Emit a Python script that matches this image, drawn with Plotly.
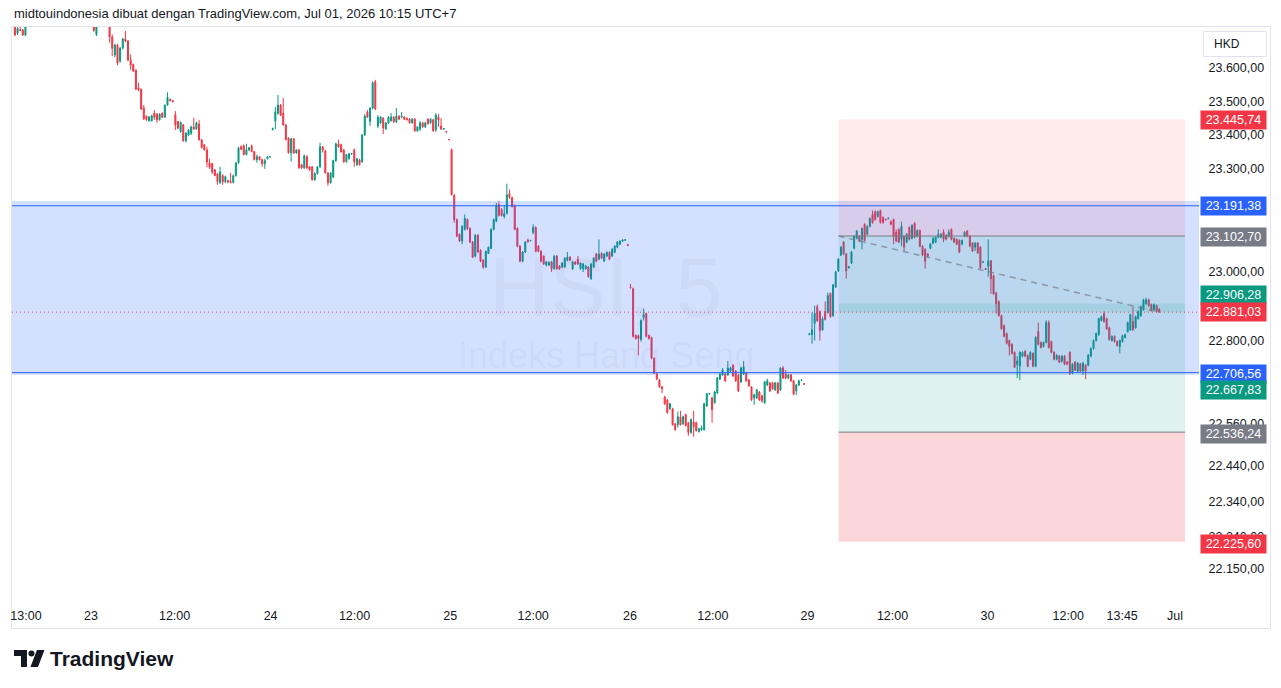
import math
import plotly.graph_objects as go

# ---------------- DATA (HSI, 5-minute candles) ----------------
# each tuple = (open, high, low, close); one list per trading session
D22 = [  # last bars of Jun 22 (first five visible at the top edge, the rest above the visible range)
    (23730, 23745, 23695, 23698), (23703, 23725, 23698, 23718), (23714, 23722, 23710, 23712),
    (23713, 23716, 23696, 23698), (23698, 23745, 23695, 23730),
    (23730, 23752, 23726, 23745), (23745, 23768, 23740, 23760), (23760, 23781, 23752, 23772),
    (23772, 23779, 23758, 23766), (23766, 23788, 23761, 23780), (23780, 23801, 23774, 23795),
    (23795, 23799, 23781, 23787), (23787, 23808, 23783, 23802), (23802, 23818, 23796, 23810),
    (23810, 23813, 23792, 23798), (23798, 23811, 23793, 23805), (23805, 23822, 23800, 23815),
    (23815, 23828, 23809, 23820), (23820, 23824, 23806, 23812), (23812, 23816, 23800, 23806),
    (23806, 23822, 23802, 23818), (23818, 23831, 23812, 23825), (23825, 23828, 23808, 23814),
    (23814, 23817, 23795, 23800), (23800, 23804, 23786, 23792), (23792, 23796, 23779, 23785),
    (23785, 23797, 23781, 23790), (23790, 23793, 23772, 23778), (23778, 23782, 23762, 23770),
    (23770, 23774, 23752, 23765),
]
D23 = [
    (23730, 23745, 23708, 23712), (23700, 23740, 23695, 23728), (23728, 23765, 23724, 23752),
    (23752, 23775, 23740, 23748), (23748, 23760, 23732, 23740), (23740, 23752, 23726, 23735),
    (23735, 23745, 23675, 23692), (23692, 23700, 23635, 23658), (23638, 23672, 23632, 23668),
    (23668, 23672, 23608, 23614), (23620, 23662, 23615, 23659), (23659, 23690, 23655, 23686),
    (23686, 23710, 23676, 23680), (23680, 23683, 23620, 23623), (23623, 23640, 23594, 23608),
    (23610, 23612, 23588, 23590), (23593, 23595, 23534, 23536), (23540, 23555, 23530, 23534),
    (23536, 23538, 23474, 23477), (23480, 23489, 23445, 23448), (23456, 23458, 23442, 23445),
    (23442, 23456, 23440, 23454), (23442, 23460, 23440, 23457), (23465, 23474, 23445, 23453),
    (23462, 23465, 23436, 23445), (23445, 23465, 23443, 23462), (23465, 23467, 23450, 23453),
    (23453, 23490, 23451, 23489), (23489, 23527, 23487, 23512), (23506, 23508, 23500, 23502),
    (23502, 23504, 23497, 23499),
    (23460, 23471, 23415, 23430), (23440, 23442, 23418, 23420), (23410, 23440, 23407, 23438),
    (23430, 23433, 23380, 23383), (23383, 23408, 23378, 23406), (23400, 23418, 23398, 23415),
    (23405, 23427, 23400, 23424), (23424, 23451, 23415, 23418), (23418, 23440, 23415, 23436),
    (23433, 23445, 23383, 23386), (23386, 23388, 23360, 23363), (23371, 23373, 23354, 23356),
    (23356, 23365, 23305, 23320), (23318, 23330, 23300, 23305), (23315, 23318, 23285, 23291),
    (23297, 23300, 23278, 23280), (23285, 23288, 23253, 23262), (23259, 23306, 23256, 23291),
    (23280, 23285, 23253, 23262), (23262, 23280, 23258, 23277), (23265, 23268, 23258, 23261),
    (23263, 23288, 23257, 23260), (23260, 23283, 23257, 23280), (23280, 23320, 23277, 23318),
    (23318, 23365, 23315, 23362), (23365, 23370, 23355, 23358), (23368, 23372, 23340, 23342),
    (23342, 23374, 23340, 23356), (23356, 23365, 23353, 23362), (23368, 23372, 23349, 23351),
    (23351, 23353, 23325, 23327), (23327, 23342, 23318, 23336), (23336, 23338, 23325, 23327),
    (23327, 23330, 23306, 23315), (23315, 23330, 23300, 23324), (23330, 23337, 23328, 23335),
    (23335, 23337, 23333, 23336),
]
D24 = [
    (23416, 23422, 23414, 23419), (23442, 23483, 23418, 23468), (23465, 23519, 23460, 23489),
    (23489, 23492, 23456, 23459), (23465, 23510, 23428, 23430), (23430, 23433, 23384, 23386),
    (23391, 23393, 23345, 23347), (23347, 23391, 23321, 23389), (23389, 23391, 23345, 23347),
    (23347, 23358, 23344, 23356), (23356, 23359, 23300, 23303), (23312, 23315, 23300, 23303),
    (23303, 23342, 23300, 23339), (23336, 23340, 23300, 23303), (23306, 23308, 23294, 23297),
    (23306, 23308, 23265, 23268), (23268, 23290, 23265, 23286), (23286, 23308, 23283, 23306),
    (23306, 23377, 23303, 23365), (23365, 23367, 23348, 23356), (23353, 23356, 23286, 23288),
    (23288, 23290, 23250, 23259), (23259, 23290, 23256, 23288), (23276, 23327, 23273, 23324),
    (23324, 23377, 23321, 23374), (23374, 23386, 23362, 23365), (23371, 23374, 23348, 23350),
    (23356, 23358, 23318, 23321), (23321, 23344, 23318, 23342), (23330, 23348, 23327, 23344),
    (23344, 23346, 23342, 23345),
    (23356, 23360, 23306, 23321), (23312, 23332, 23309, 23330), (23327, 23330, 23310, 23312),
    (23321, 23403, 23318, 23400), (23400, 23462, 23398, 23456), (23468, 23474, 23450, 23453),
    (23440, 23482, 23427, 23480), (23480, 23560, 23476, 23555), (23558, 23564, 23474, 23477),
    (23427, 23459, 23421, 23453), (23436, 23456, 23433, 23453), (23450, 23453, 23403, 23421),
    (23418, 23438, 23415, 23436), (23436, 23456, 23433, 23453), (23442, 23465, 23440, 23453),
    (23453, 23456, 23436, 23439), (23439, 23480, 23436, 23456), (23456, 23459, 23445, 23447),
    (23453, 23468, 23450, 23456), (23453, 23456, 23445, 23447), (23450, 23452, 23443, 23445),
    (23447, 23450, 23434, 23436), (23436, 23450, 23433, 23447), (23447, 23450, 23410, 23412),
    (23412, 23426, 23410, 23424), (23418, 23442, 23412, 23436), (23436, 23439, 23422, 23424),
    (23424, 23439, 23421, 23436), (23447, 23450, 23431, 23433), (23436, 23450, 23433, 23447),
    (23445, 23448, 23410, 23412), (23415, 23465, 23409, 23459), (23453, 23462, 23424, 23445),
    (23427, 23450, 23415, 23418), (23417, 23420, 23416, 23419), (23410, 23411, 23408, 23409),
    (23387, 23388, 23385, 23386),
]
D25 = [
    (23356, 23360, 23222, 23224), (23222, 23225, 23142, 23151), (23151, 23154, 23100, 23102),
    (23108, 23110, 23085, 23088), (23088, 23134, 23079, 23131), (23122, 23166, 23119, 23154),
    (23151, 23154, 23120, 23125), (23125, 23128, 23082, 23085), (23085, 23088, 23039, 23041),
    (23044, 23108, 23040, 23105), (23105, 23108, 23053, 23056), (23061, 23064, 23026, 23029),
    (23032, 23035, 23007, 23012), (23012, 23060, 23009, 23058), (23052, 23072, 23050, 23070),
    (23067, 23125, 23064, 23122), (23122, 23154, 23119, 23151), (23146, 23200, 23143, 23192),
    (23195, 23204, 23160, 23163), (23180, 23185, 23160, 23163), (23160, 23192, 23154, 23168),
    (23169, 23256, 23166, 23224), (23227, 23239, 23212, 23215), (23215, 23218, 23186, 23189),
    (23192, 23195, 23120, 23122), (23125, 23128, 23070, 23073), (23073, 23076, 23026, 23029),
    (23029, 23058, 23026, 23056), (23056, 23088, 23053, 23085), (23091, 23095, 23083, 23086),
    (23089, 23091, 23087, 23090),
    (23113, 23137, 23108, 23128), (23128, 23131, 23055, 23058), (23073, 23076, 23055, 23058),
    (23058, 23061, 23026, 23029), (23044, 23046, 23018, 23021), (23018, 23030, 23014, 23027),
    (23018, 23029, 23015, 23026), (23027, 23030, 22998, 23007), (23007, 23046, 23004, 23044),
    (23044, 23047, 23004, 23007), (23015, 23018, 23004, 23007), (23012, 23026, 23009, 23024),
    (23012, 23041, 23009, 23038), (23032, 23056, 23029, 23041), (23041, 23044, 23029, 23032),
    (23007, 23030, 23004, 23027), (23027, 23029, 23018, 23021), (23035, 23044, 23018, 23021),
    (23007, 23026, 23004, 23024), (23007, 23024, 22998, 23021), (23007, 23018, 23004, 23015),
    (23012, 23015, 22981, 22984), (22978, 23024, 22975, 23021), (23012, 23041, 23009, 23038),
    (23050, 23053, 23026, 23029), (23035, 23093, 23032, 23050), (23052, 23055, 23035, 23038),
    (23030, 23053, 23027, 23050), (23044, 23058, 23041, 23055), (23055, 23058, 23032, 23035),
    (23044, 23067, 23041, 23064), (23055, 23076, 23053, 23073), (23070, 23088, 23067, 23085),
    (23079, 23090, 23076, 23088), (23088, 23093, 23085, 23091), (23090, 23093, 23089, 23092),
    (23078, 23079, 23074, 23075),
]
D26 = [
    (22954, 22963, 22950, 22952), (22949, 22952, 22808, 22811), (22814, 22816, 22802, 22805),
    (22813, 22816, 22756, 22805), (22802, 22860, 22796, 22857), (22866, 22891, 22857, 22874),
    (22877, 22880, 22808, 22811), (22814, 22816, 22802, 22805), (22808, 22810, 22745, 22748),
    (22748, 22751, 22703, 22705), (22703, 22708, 22685, 22688), (22685, 22688, 22663, 22666),
    (22666, 22668, 22648, 22660), (22637, 22640, 22614, 22617), (22628, 22631, 22589, 22592),
    (22603, 22620, 22600, 22617), (22603, 22606, 22555, 22557), (22560, 22562, 22540, 22543),
    (22557, 22595, 22549, 22580), (22580, 22597, 22555, 22557), (22560, 22583, 22557, 22580),
    (22586, 22589, 22552, 22555), (22563, 22566, 22526, 22535), (22535, 22575, 22532, 22572),
    (22566, 22597, 22523, 22552), (22563, 22566, 22538, 22540), (22538, 22549, 22535, 22546),
    (22543, 22555, 22540, 22549), (22543, 22620, 22540, 22617), (22611, 22648, 22608, 22646),
    (22645, 22648, 22644, 22647),
    (22634, 22637, 22563, 22600), (22620, 22654, 22617, 22651), (22648, 22694, 22645, 22691),
    (22688, 22705, 22686, 22703), (22700, 22720, 22697, 22714), (22703, 22705, 22680, 22683),
    (22700, 22740, 22697, 22720), (22711, 22723, 22708, 22720), (22728, 22731, 22694, 22697),
    (22711, 22714, 22680, 22683), (22700, 22703, 22651, 22654), (22680, 22723, 22677, 22720),
    (22703, 22740, 22700, 22723), (22705, 22708, 22680, 22683), (22686, 22688, 22666, 22668),
    (22666, 22668, 22625, 22628), (22634, 22646, 22614, 22643), (22634, 22660, 22631, 22657),
    (22651, 22654, 22626, 22628), (22640, 22643, 22620, 22626), (22620, 22683, 22617, 22680),
    (22671, 22689, 22668, 22683), (22677, 22680, 22651, 22654), (22677, 22680, 22657, 22660),
    (22657, 22680, 22654, 22677), (22677, 22680, 22645, 22648), (22657, 22722, 22654, 22720),
    (22720, 22725, 22688, 22691), (22703, 22714, 22688, 22691), (22691, 22703, 22688, 22700),
    (22700, 22703, 22680, 22683), (22683, 22686, 22642, 22645), (22654, 22674, 22642, 22671),
    (22671, 22686, 22668, 22683), (22684, 22687, 22683, 22686), (22675, 22676, 22672, 22673),
]
D29 = [
    (22816, 22821, 22815, 22819), (22816, 22880, 22790, 22830), (22848, 22900, 22799, 22877),
    (22897, 22903, 22853, 22856), (22883, 22886, 22799, 22828), (22830, 22868, 22827, 22862),
    (22883, 22912, 22857, 22860), (22880, 22938, 22877, 22929), (22935, 22938, 22865, 22868),
    (22871, 22963, 22868, 22960), (22954, 23001, 22951, 22998), (23001, 23038, 22998, 23035),
    (23047, 23073, 23044, 23070), (23085, 23088, 23047, 23050), (23050, 23053, 22978, 23001),
    (23010, 23015, 23008, 23013), (23024, 23059, 23021, 23056), (23067, 23105, 23064, 23102),
    (23096, 23120, 23093, 23117), (23102, 23105, 23085, 23088), (23093, 23128, 23064, 23125),
    (23137, 23140, 23087, 23090), (23108, 23134, 23105, 23131), (23131, 23157, 23128, 23154),
    (23166, 23177, 23139, 23142), (23174, 23177, 23148, 23151), (23160, 23177, 23157, 23174),
    (23177, 23180, 23139, 23142), (23157, 23160, 23139, 23142), (23152, 23153, 23149, 23150),
    (23153, 23156, 23152, 23155),
    (23145, 23148, 23134, 23137), (23151, 23154, 23079, 23102), (23114, 23122, 23085, 23088),
    (23122, 23125, 23082, 23085), (23093, 23145, 23073, 23131), (23102, 23105, 23059, 23070),
    (23085, 23111, 23082, 23108), (23128, 23131, 23090, 23093), (23096, 23137, 23093, 23134),
    (23140, 23143, 23096, 23099), (23102, 23122, 23099, 23119), (23119, 23122, 23070, 23073),
    (23073, 23076, 23044, 23047), (23064, 23067, 23007, 23029), (23050, 23053, 23041, 23044),
    (23067, 23082, 23064, 23079), (23082, 23099, 23079, 23096), (23085, 23102, 23082, 23099),
    (23099, 23122, 23096, 23108), (23099, 23111, 23096, 23108), (23114, 23122, 23085, 23093),
    (23105, 23108, 23090, 23093), (23102, 23122, 23099, 23114), (23122, 23125, 23090, 23093),
    (23096, 23099, 23082, 23085), (23093, 23096, 23076, 23079), (23090, 23093, 23053, 23056),
    (23079, 23093, 23076, 23090), (23102, 23117, 23099, 23114), (23117, 23120, 23099, 23102),
    (23102, 23105, 23070, 23073), (23082, 23085, 23056, 23059), (23070, 23085, 23059, 23082),
    (23082, 23085, 23050, 23053), (23070, 23073, 23007, 23010), (23026, 23029, 23025, 23028),
    (23008, 23009, 23004, 23005),
]
D30 = [
    (23015, 23093, 22984, 23030), (23030, 23033, 22934, 22978), (22987, 22990, 22931, 22934),
    (22937, 22940, 22877, 22906), (22912, 22915, 22868, 22871), (22871, 22874, 22830, 22833),
    (22842, 22845, 22808, 22811), (22819, 22822, 22788, 22791), (22799, 22802, 22756, 22782),
    (22788, 22791, 22759, 22762), (22765, 22768, 22720, 22722), (22730, 22754, 22691, 22740),
    (22725, 22768, 22685, 22765), (22754, 22768, 22751, 22765), (22768, 22771, 22751, 22754),
    (22756, 22759, 22722, 22725), (22745, 22768, 22742, 22765), (22762, 22765, 22722, 22725),
    (22725, 22811, 22722, 22808), (22825, 22851, 22785, 22788), (22794, 22796, 22776, 22779),
    (22782, 22796, 22779, 22794), (22794, 22857, 22791, 22851), (22851, 22857, 22776, 22779),
    (22796, 22799, 22762, 22765), (22765, 22768, 22742, 22745), (22745, 22759, 22742, 22757),
    (22754, 22757, 22734, 22737), (22739, 22757, 22736, 22754), (22754, 22757, 22728, 22731),
    (22737, 22740, 22728, 22731),
    (22765, 22768, 22700, 22705), (22705, 22734, 22702, 22731), (22737, 22740, 22711, 22714),
    (22711, 22737, 22708, 22734), (22731, 22734, 22708, 22711), (22711, 22737, 22700, 22734),
    (22728, 22731, 22688, 22711), (22728, 22760, 22725, 22757), (22754, 22779, 22751, 22776),
    (22776, 22802, 22773, 22799), (22799, 22822, 22796, 22819), (22816, 22865, 22813, 22862),
    (22857, 22871, 22854, 22868), (22877, 22883, 22851, 22854), (22862, 22865, 22830, 22833),
    (22836, 22839, 22799, 22802), (22799, 22814, 22796, 22811), (22811, 22814, 22793, 22796),
    (22796, 22799, 22782, 22785), (22782, 22802, 22762, 22799), (22796, 22816, 22793, 22813),
    (22808, 22819, 22805, 22816), (22825, 22854, 22822, 22851), (22830, 22877, 22827, 22874),
    (22854, 22897, 22827, 22830), (22836, 22871, 22833, 22868), (22862, 22886, 22860, 22883),
    (22871, 22900, 22868, 22897), (22888, 22920, 22886, 22917), (22906, 22923, 22903, 22917),
    (22917, 22920, 22897, 22900), (22903, 22906, 22883, 22886), (22888, 22906, 22886, 22903),
    (22900, 22903, 22880, 22883), (22890, 22892, 22879, 22881.03),
]
# (session, bars, index of first listed bar inside its 68-bar session)
SESSIONS = [("22", D22, 38), ("23", D23, 0), ("24", D24, 0), ("25", D25, 0),
            ("26", D26, 0), ("29", D29, 0), ("30", D30, 0)]
BARS_PER_SESSION = 68

# time-axis labels and their bar positions
X_TICK_TEXT = ["13:00", "23", "12:00", "24", "12:00", "25", "12:00", "26", "12:00",
               "29", "12:00", "30", "12:00", "13:45", "Jul"]
X_TICK_BAR = [-25.8, -1.1, 30.7, 67.2, 99.1, 135.5, 167.0, 203.8, 235.3,
              271.3, 303.6, 339.7, 370.4, 390.9, 411.0]
X_RANGE = [-31.1, 420.1]

# price axis (log scale)
Y_TICKS = [23600, 23500, 23400, 23300, 23200, 23100, 23000, 22900, 22800,
           22680, 22560, 22440, 22340, 22240, 22150]
Y_RANGE = [22067.9, 23722.2]

# drawings
ZONE_LOW, ZONE_HIGH = 22700.0, 23205.0          # blue rectangle
HLINE_TOP, HLINE_BOTTOM = 23191.38, 22706.56     # blue horizontal lines
LAST_PRICE = 22881.03
STOP_HIGH, ENTRY_HIGH, TARGET_A = 23445.74, 23102.70, 22667.83
TARGET_B, ENTRY_LOW, STOP_LOW = 22906.28, 22536.24, 22225.60
POS_BAR_START, POS_BAR_END = 283.1, 414.8

# axis labels on the right: (price, colour, pixel shift)
PRICE_LABELS = [
    (STOP_HIGH, "#F23645", 0), (HLINE_TOP, "#2962FF", 0), (ENTRY_HIGH, "#787B86", -1),
    (TARGET_B, "#089981", 8), (LAST_PRICE, "#F23645", 0), (HLINE_BOTTOM, "#2962FF", -1),
    (TARGET_A, "#089981", -4), (ENTRY_LOW, "#787B86", -2), (STOP_LOW, "#F23645", -2),
]

# ---------------- BUILD ----------------
xs, op, hi, lo, cl = [], [], [], [], []
for k, (_, bars, first) in enumerate(SESSIONS):
    for i, (bo, bh, bl, bc) in enumerate(bars):
        xs.append((k - 1) * BARS_PER_SESSION + first + i)
        op.append(bo); hi.append(bh); lo.append(bl); cl.append(bc)
last_bar = xs[-1]


def fmt(v):
    s = f"{v:,.2f}"
    return s.replace(",", "#").replace(".", ",").replace("#", ".")


FONT = "Liberation Sans Narrow, Arial Narrow, Liberation Sans, Arial, sans-serif"
UP, DOWN = "#089981", "#F23645"

fig = go.Figure(go.Candlestick(
    x=xs, open=op, high=hi, low=lo, close=cl,
    increasing=dict(line=dict(color=UP, width=1), fillcolor=UP),
    decreasing=dict(line=dict(color=DOWN, width=1), fillcolor=DOWN),
    whiskerwidth=0, hoverinfo="skip", showlegend=False,
))

shapes = []
# blue zone rectangle
shapes.append(dict(type="rect", xref="paper", x0=0, x1=1, yref="y", y0=ZONE_LOW, y1=ZONE_HIGH,
                   fillcolor="rgba(41,98,255,0.2)", line=dict(width=0), layer="above"))
# position tool zones
zones = [(ENTRY_HIGH, STOP_HIGH, "rgba(242,54,69,0.11)"),
         (ENTRY_LOW, ENTRY_HIGH, "rgba(8,153,129,0.125)"),
         (LAST_PRICE, TARGET_B, "rgba(8,153,129,0.12)"),
         (STOP_LOW, ENTRY_LOW, "rgba(242,54,69,0.2)")]
for y0, y1, col in zones:
    shapes.append(dict(type="rect", xref="x", x0=POS_BAR_START, x1=POS_BAR_END, yref="y",
                       y0=y0, y1=y1, fillcolor=col, line=dict(width=0), layer="above"))
for yv in (ENTRY_HIGH, ENTRY_LOW):
    shapes.append(dict(type="line", xref="x", x0=POS_BAR_START, x1=POS_BAR_END, yref="y",
                       y0=yv, y1=yv, line=dict(color="#787B86", width=1), layer="above"))
shapes.append(dict(type="line", xref="x", x0=POS_BAR_START, x1=last_bar, yref="y",
                   y0=ENTRY_HIGH, y1=LAST_PRICE,
                   line=dict(color="rgba(120,123,134,0.7)", width=1.5, dash="6px,5px"),
                   layer="above"))
for yv in (HLINE_TOP, HLINE_BOTTOM):
    shapes.append(dict(type="line", xref="paper", x0=0, x1=1, yref="y", y0=yv, y1=yv,
                       line=dict(color="#2962FF", width=1), layer="above"))
shapes.append(dict(type="line", xref="paper", x0=0, x1=1, yref="y", y0=LAST_PRICE, y1=LAST_PRICE,
                   line=dict(color="rgba(242,54,69,0.85)", width=1, dash="1px,3px"),
                   layer="above"))

# page furniture (pixel -> paper helpers for decoration outside the plot)
PL, PR, PT, PB = 10, 1199, 27, 598


def px(x):
    return (x - PL) / (PR - PL)


def py(y):
    return (PB - y) / (PB - PT)


shapes.append(dict(type="rect", xref="paper", yref="paper", x0=px(9.5), x1=px(1270.5),
                   y0=py(26.5), y1=py(628.5), line=dict(color="#E0E3EB", width=1),
                   fillcolor="rgba(0,0,0,0)", layer="below"))
# HKD box
shapes.append(dict(type="rect", xref="paper", yref="paper", x0=px(1203.5), x1=px(1266.5),
                   y0=py(31.5), y1=py(56.5), line=dict(color="#E0E3EB", width=1),
                   fillcolor="white", layer="above"))
# TradingView logo mark
shapes.append(dict(type="path", xref="paper", yref="paper",
                   path=f"M {px(12)},{py(650)} L {px(25)},{py(650)} L {px(25)},{py(667)} "
                        f"L {px(19)},{py(667)} L {px(19)},{py(656)} L {px(12)},{py(656)} Z",
                   fillcolor="#131722", line=dict(width=0)))
shapes.append(dict(type="circle", xref="paper", yref="paper", x0=px(26.5), x1=px(32.5),
                   y0=py(656.5), y1=py(650.5), fillcolor="#131722", line=dict(width=0)))
shapes.append(dict(type="path", xref="paper", yref="paper",
                   path=f"M {px(35)},{py(650)} L {px(42.5)},{py(650)} L {px(36)},{py(667)} "
                        f"L {px(28.5)},{py(667)} Z",
                   fillcolor="#131722", line=dict(width=0)))

annotations = []
annotations.append(dict(text="midtouindonesia dibuat dengan TradingView.com, Jul 01, 2026 10:15 UTC+7",
                        xref="paper", yref="paper", x=px(10), y=py(14), xanchor="left",
                        yanchor="middle", showarrow=False,
                        font=dict(family=FONT, size=13, color="#131722")))
annotations.append(dict(text="HSI, 5", xref="paper", yref="paper", x=px(605), y=py(287),
                        xanchor="center", yanchor="middle", showarrow=False,
                        font=dict(family="Liberation Sans, Arial, sans-serif", size=84,
                                  color="rgba(120,123,134,0.07)")))
annotations.append(dict(text="Indeks Hang Seng", xref="paper", yref="paper", x=px(605), y=py(355),
                        xanchor="center", yanchor="middle", showarrow=False,
                        font=dict(family="Liberation Sans, Arial, sans-serif", size=36,
                                  color="rgba(120,123,134,0.07)")))
annotations.append(dict(text="HKD", xref="paper", yref="paper", x=px(1212), y=py(44),
                        xanchor="left", yanchor="middle", showarrow=False,
                        font=dict(family=FONT, size=12, color="#131722")))
annotations.append(dict(text="<b>TradingView</b>", xref="paper", yref="paper", x=px(46), y=py(658),
                        xanchor="left", yanchor="middle", showarrow=False,
                        font=dict(family="Liberation Sans, Arial, sans-serif", size=21,
                                  color="#131722")))
for price, col, shift in PRICE_LABELS:
    annotations.append(dict(text=fmt(price), xref="paper", x=px(1200), xanchor="left",
                            yref="y", y=math.log10(price), yanchor="middle", yshift=shift,
                            showarrow=False, bgcolor=col, borderpad=2, width=61, align="center",
                            font=dict(family=FONT, size=12.5, color="white")))

fig.update_layout(
    width=1281, height=688,
    margin=dict(l=PL, r=1281 - PR, t=PT, b=688 - PB),
    paper_bgcolor="white", plot_bgcolor="white",
    font=dict(family=FONT, size=12, color="#131722"),
    shapes=shapes, annotations=annotations, boxgap=0.45,
    xaxis=dict(range=X_RANGE, tickmode="array", tickvals=X_TICK_BAR, ticktext=X_TICK_TEXT,
               showgrid=False, zeroline=False, showline=False, ticks="outside", ticklen=6,
               tickcolor="rgba(0,0,0,0)", rangeslider=dict(visible=False),
               tickfont=dict(family=FONT, size=12.5, color="#131722")),
    yaxis=dict(type="log", range=[math.log10(Y_RANGE[0]), math.log10(Y_RANGE[1])],
               side="right", tickmode="array", tickvals=Y_TICKS,
               ticktext=[fmt(v) for v in Y_TICKS], showgrid=False, zeroline=False,
               showline=False, ticks="outside", ticklen=6, tickcolor="rgba(0,0,0,0)",
               tickfont=dict(family=FONT, size=12.5, color="#131722")),
)

fig.write_html("out.html")
